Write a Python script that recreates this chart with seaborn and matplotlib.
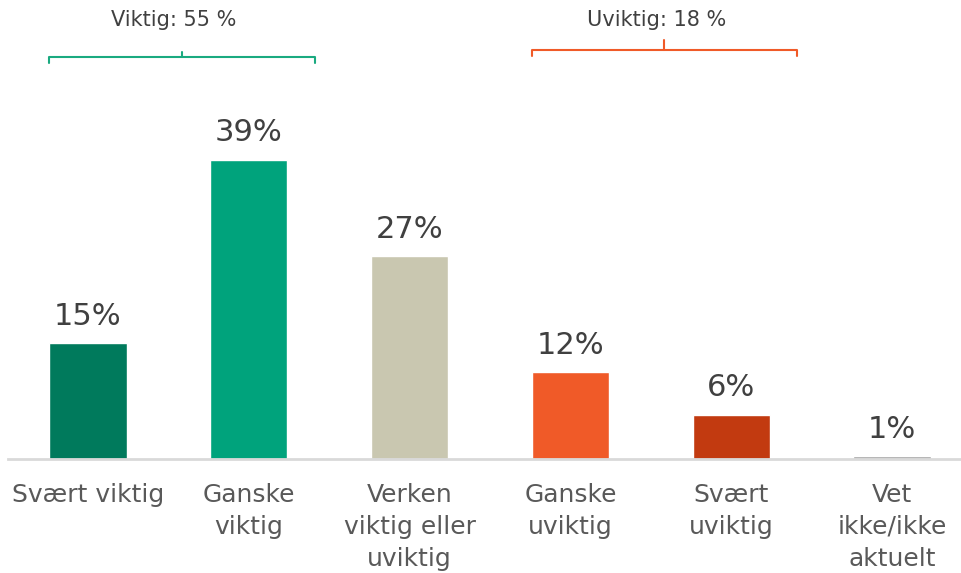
import matplotlib
matplotlib.use("Agg")
import matplotlib.pyplot as plt
import matplotlib.transforms as mtransforms
import pandas as pd
import seaborn as sns

# --- data ---
kategorier = ["Svært viktig", "Ganske\nviktig", "Verken\nviktig eller\nuviktig",
              "Ganske\nuviktig", "Svært\nuviktig", "Vet\nikke/ikke\naktuelt"]
andeler = [15.2, 39.4, 26.7, 11.4, 5.8, 0.35]
etiketter = ["15%", "39%", "27%", "12%", "6%", "1%"]
farger = ["#007A5C", "#00A37C", "#C9C7B0", "#F05A28", "#C23A10", "#A6A6A6"]

grupper = ["Viktig: 55 %", "Uviktig: 18 %"]
gruppe_farger = ["#1AAA80", "#F05A28"]

df = pd.DataFrame({"kategori": kategorier, "andel": andeler})

sns.set_style("white")
plt.rcParams["font.family"] = ["DejaVu Sans"]

fig = plt.figure(figsize=(9.61, 5.73), dpi=100)
ax = fig.add_axes([8 / 961, 114 / 573, 953 / 961, 342 / 573])

sns.barplot(data=df, x="kategori", y="andel", hue="kategori", palette=farger,
            legend=False, width=0.48, saturation=1, ax=ax)

ax.set_xlim(-0.4975, 5.429)
ax.set_ylim(0, 45)

for i, cont in enumerate(ax.containers):
    ax.bar_label(cont, labels=[etiketter[i]], padding=9, fontsize=22, color="#404040")

for s in ["top", "right", "left"]:
    ax.spines[s].set_visible(False)
ax.spines["bottom"].set_color("#D9D9D9")
ax.spines["bottom"].set_linewidth(2)
ax.set_yticks([])
ax.set_xlabel("")
ax.set_ylabel("")
ax.tick_params(axis="x", length=0, pad=17, labelsize=18, labelcolor="#595959")
for lbl in ax.get_xticklabels():
    lbl.set_linespacing(1.42)

# klammer over gruppene
trans = mtransforms.blended_transform_factory(ax.transData, fig.transFigure)
spenn = [(-0.24, 1.41), (2.76, 4.41)]
nivaa = [(573 - 57) / 573, (573 - 50) / 573]
tupp = [5 / 573, 10 / 573]
for (x0, x1), y, t, farge, tekst in zip(spenn, nivaa, tupp, gruppe_farger, grupper):
    midt = (x0 + x1) / 2
    d = 6 / 573
    ax.plot([x0, x0, x1, x1], [y - d, y, y, y - d], color=farge, lw=1.5,
            transform=trans, clip_on=False)
    ax.plot([midt, midt], [y, y + t], color=farge, lw=1.5, transform=trans, clip_on=False)
    ax.text(midt - 0.05, (573 - 20) / 573, tekst, ha="center", va="center",
            fontsize=15, color="#404040", transform=trans)

plt.savefig("out.png", dpi=100)
